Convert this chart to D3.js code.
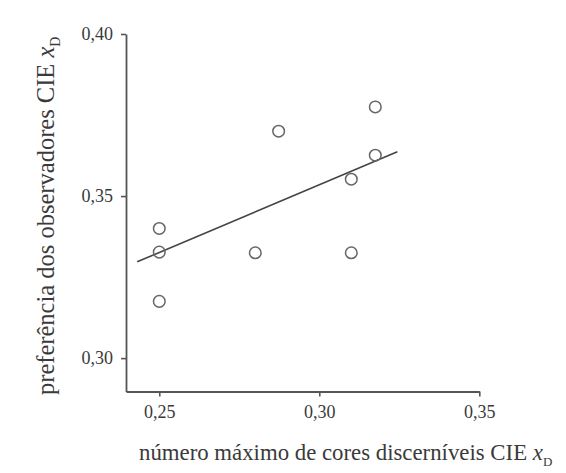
<!DOCTYPE html>
<html><head><meta charset="utf-8">
<script src="https://cdn.jsdelivr.net/npm/d3@7"></script>
<style>
html,body{margin:0;padding:0;background:#fff;}
svg{display:block;}
text{font-family:"Liberation Serif","Times New Roman",serif;fill:#3a3a3a;}
</style></head>
<body>
<script>
// data
const pointsX = [0.250, 0.250, 0.250, 0.280, 0.2873, 0.310, 0.310, 0.3175, 0.3175];
const pointsY = [0.340, 0.3327, 0.3175, 0.3325, 0.370, 0.3552, 0.3325, 0.3775, 0.3626];
const fitX = [0.2431, 0.3244];
const fitY = [0.3297, 0.3637];
const xTicks = [0.25, 0.30, 0.35];
const yTicks = [0.30, 0.35, 0.40];
const xTitle = "número máximo de cores discerníveis CIE ";
const yTitle = "preferência dos observadores CIE ";

const W = 566, H = 473;
const svg = d3.select("body").append("svg").attr("width", W).attr("height", H);

const x = d3.scaleLinear().domain([0.2396, 0.35]).range([126, 479.3]);
const y = d3.scaleLinear().domain([0.2897, 0.40]).range([391.5, 34]);
const fmt = d => d3.format(".2f")(d).replace(".", ",");

const gx = svg.append("g").attr("transform", `translate(0,${y.range()[0]})`)
  .call(d3.axisBottom(x).tickValues(xTicks).tickFormat(fmt).tickSize(5).tickSizeOuter(0).tickPadding(9));
const gy = svg.append("g").attr("transform", `translate(${x.range()[0]},0)`)
  .call(d3.axisLeft(y).tickValues(yTicks).tickFormat(fmt).tickSize(5).tickSizeOuter(0).tickPadding(8));
[gx, gy].forEach(g => {
  g.select(".domain").attr("stroke", "#555").attr("stroke-width", 1.8);
  g.selectAll(".tick line").attr("stroke", "#555").attr("stroke-width", 1.6);
  g.selectAll(".tick text").attr("font-size", 18).attr("font-family", "Liberation Serif").attr("fill", "#3a3a3a");
});

// fit line
svg.append("line")
  .attr("x1", x(fitX[0])).attr("y1", y(fitY[0]))
  .attr("x2", x(fitX[1])).attr("y2", y(fitY[1]))
  .attr("stroke", "#444").attr("stroke-width", 1.6);

// points
svg.selectAll("circle.pt").data(pointsX.map((d, i) => [d, pointsY[i]])).enter()
  .append("circle").attr("class", "pt")
  .attr("cx", d => x(d[0])).attr("cy", d => y(d[1])).attr("r", 5.8)
  .attr("fill", "none").attr("stroke", "#666").attr("stroke-width", 1.5);

// x title
const xt = svg.append("text").attr("x", 139).attr("y", 460).attr("font-size", 22.8);
xt.append("tspan").text(xTitle);
xt.append("tspan").attr("font-style", "italic").text("x");
xt.append("tspan").attr("font-size", 13).attr("dy", 6).text("D");

// y title
const yt = svg.append("text").attr("transform", "translate(54,395) rotate(-90)").attr("font-size", 24.5);
yt.append("tspan").text(yTitle);
yt.append("tspan").attr("font-style", "italic").text("x");
yt.append("tspan").attr("font-size", 14).attr("dy", 6).text("D");
</script>
</body></html>
